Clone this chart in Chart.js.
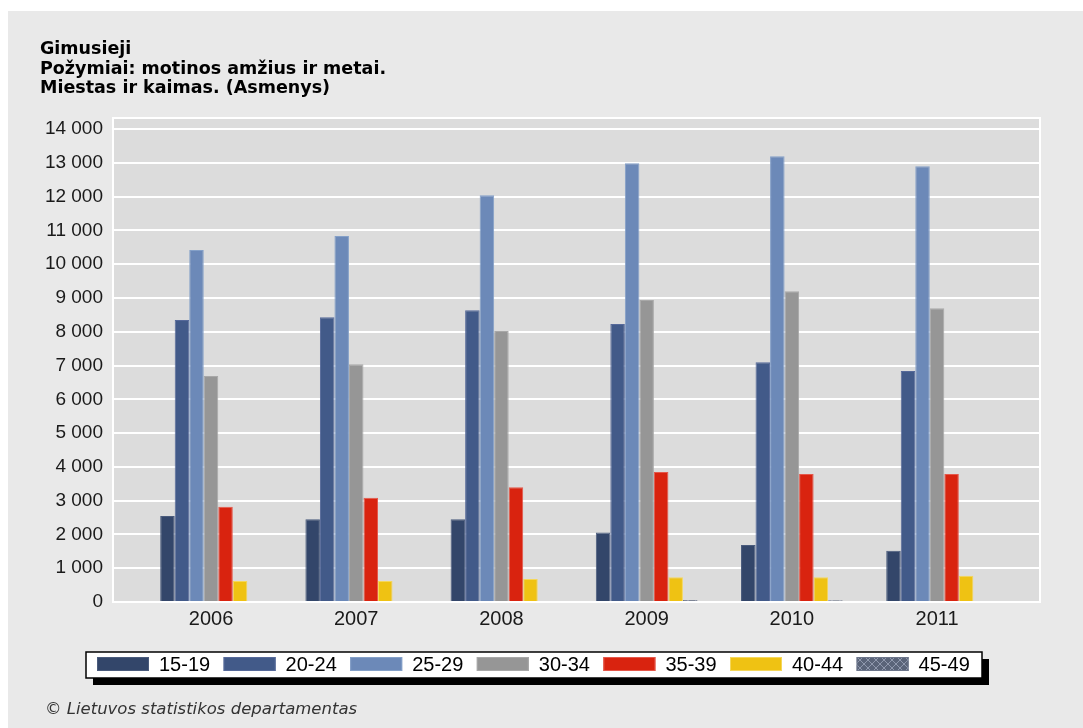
<!DOCTYPE html>
<html>
<head>
<meta charset="utf-8">
<script src="https://cdn.jsdelivr.net/npm/chart.js@4.4.0/dist/chart.umd.min.js"></script>
<style>
  html, body { margin: 0; padding: 0; background: #ffffff; }
  #wrap { width: 1083px; height: 728px; }
</style>
</head>
<body>
<div id="wrap"><canvas id="birthsChart" width="1083" height="728"></canvas></div>
<script>
// data (asmenys)
const years = [2006, 2007, 2008, 2009, 2010, 2011];
const ageGroups = ['15-19', '20-24', '25-29', '30-34', '35-39', '40-44', '45-49'];
const age15_19 = [2545, 2447, 2450, 2060, 1690, 1520];
const age20_24 = [8350, 8430, 8640, 8230, 7100, 6840];
const age25_29 = [10420, 10840, 12040, 12990, 13200, 12900];
const age30_34 = [6690, 7040, 8020, 8940, 9200, 8700];
const age35_39 = [2820, 3087, 3400, 3850, 3790, 3790];
const age40_44 = [620, 620, 680, 730, 730, 780];
const age45_49 = [0, 0, 0, 60, 55, 0];
const yTicks = [0, 1000, 2000, 3000, 4000, 5000, 6000, 7000, 8000, 9000, 10000, 11000, 12000, 13000, 14000];

const titleLines = ['Gimusieji', 'Požymiai: motinos amžius ir metai.', 'Miestas ir kaimas. (Asmenys)'];
const sourceText = '© Lietuvos statistikos departamentas';

const FONT = '"Liberation Sans", Arial, sans-serif';
const WIDE_FONT = '"DejaVu Sans", Verdana, sans-serif';

// crosshatch fill for the 45-49 group
function makeHatch() {
  var c = document.createElement('canvas');
  c.width = 8; c.height = 8;
  var g = c.getContext('2d');
  g.fillStyle = '#5a6479';
  g.fillRect(0, 0, 8, 8);
  g.strokeStyle = '#8f98ad';
  g.lineWidth = 1;
  g.beginPath();
  g.moveTo(0, 0); g.lineTo(8, 8);
  g.moveTo(8, 0); g.lineTo(0, 8);
  g.stroke();
  return g.createPattern(c, 'repeat');
}
const hatch = makeHatch();

const seriesValues = [age15_19, age20_24, age25_29, age30_34, age35_39, age40_44, age45_49];
const fills = ['#33466a', '#425a89', '#6c89b8', '#969696', '#d9230f', '#efc213', hatch];
const edges = ['#4a5b7c', '#56699a', '#84a0c8', '#a8a8a8', '#e5574a', '#f5d75a', '#6c758a'];

const datasets = seriesValues.map(function (vals, k) {
  return {
    label: ageGroups[k],
    data: years.map(function (yr, i) { return { x: yr, y: vals[i] }; }),
    backgroundColor: fills[k],
    borderColor: edges[k],
    borderWidth: 1,
    categoryPercentage: 0.7,
    barPercentage: 1.0
  };
});

function formatThousands(v) {
  return String(v).replace(/\B(?=(\d{3})+(?!\d))/g, ' ');
}

const decorPlugin = {
  id: 'decor',
  beforeDraw: function (chart) {
    var ctx = chart.ctx;
    var a = chart.chartArea;
    ctx.save();
    ctx.fillStyle = '#ffffff';
    ctx.fillRect(0, 0, chart.width, chart.height);
    ctx.fillStyle = '#e9e9e9';
    ctx.fillRect(8, 11, chart.width - 8, chart.height - 11);
    ctx.fillStyle = '#dcdcdc';
    ctx.fillRect(a.left, a.top, a.right - a.left, a.bottom - a.top);
    ctx.restore();
  },
  beforeDatasetsDraw: function (chart) {
    var ctx = chart.ctx;
    var a = chart.chartArea;
    ctx.save();
    ctx.strokeStyle = '#ffffff';
    ctx.lineWidth = 2;
    ctx.strokeRect(a.left, a.top, a.right - a.left, a.bottom - a.top);
    ctx.restore();
  },
  afterDraw: function (chart) {
    var ctx = chart.ctx;
    ctx.save();

    // title block
    ctx.fillStyle = '#000000';
    ctx.font = 'bold 17.5px ' + WIDE_FONT;
    ctx.textBaseline = 'alphabetic';
    titleLines.forEach(function (line, i) {
      ctx.fillText(line, 40, 54 + i * 19.5);
    });

    // legend box with its drop shadow
    var bx = 86, by = 652, bw = 896, bh = 26;
    ctx.fillStyle = '#000000';
    ctx.fillRect(bx + 7, by + 7, bw, bh);
    ctx.fillStyle = '#ffffff';
    ctx.fillRect(bx, by, bw, bh);
    ctx.strokeStyle = '#000000';
    ctx.lineWidth = 1.5;
    ctx.strokeRect(bx, by, bw, bh);

    ctx.font = '20px ' + FONT;
    ctx.textBaseline = 'middle';
    chart.data.datasets.forEach(function (ds, i) {
      var x0 = 97 + i * 126.6;
      ctx.fillStyle = ds.backgroundColor;
      ctx.fillRect(x0, 657, 52, 14);
      ctx.strokeStyle = ds.borderColor;
      ctx.lineWidth = 1;
      ctx.strokeRect(x0 + 0.5, 657.5, 51, 13);
      ctx.fillStyle = '#000000';
      ctx.fillText(ds.label, x0 + 62, 665);
    });

    // source line
    ctx.font = 'italic 16.5px ' + WIDE_FONT;
    ctx.fillStyle = '#333333';
    ctx.textBaseline = 'alphabetic';
    ctx.fillText(sourceText, 45, 714);
    ctx.restore();
  }
};

new Chart(document.getElementById('birthsChart'), {
  type: 'bar',
  data: { datasets: datasets },
  options: {
    responsive: false,
    animation: false,
    devicePixelRatio: 1,
    layout: { padding: { left: 0, top: 118, right: 43, bottom: 0 } },
    plugins: {
      legend: { display: false },
      title: { display: false },
      tooltip: { enabled: false }
    },
    scales: {
      x: {
        type: 'linear',
        offset: false,
        min: 2006 - 0.675,
        max: 2011 + 0.709,
        afterBuildTicks: function (scale) {
          scale.ticks = years.map(function (y) { return { value: y }; });
        },
        afterFit: function (scale) { scale.height = 126; },
        grid: { display: false, drawTicks: false, offset: false },
        border: { display: false },
        ticks: {
          padding: 5,
          color: '#1a1a1a',
          font: { family: FONT, size: 20 },
          callback: function (v) { return String(v); }
        }
      },
      y: {
        min: 0,
        max: 14330,
        afterBuildTicks: function (scale) {
          scale.ticks = yTicks.map(function (v) { return { value: v }; });
        },
        afterFit: function (scale) { scale.width = 113; },
        grid: { color: '#ffffff', lineWidth: 2, drawTicks: false },
        border: { display: false },
        ticks: {
          padding: 10,
          color: '#1a1a1a',
          font: { family: FONT, size: 19 },
          callback: function (v) { return formatThousands(v); }
        }
      }
    }
  },
  plugins: [decorPlugin]
});
</script>
</body>
</html>
